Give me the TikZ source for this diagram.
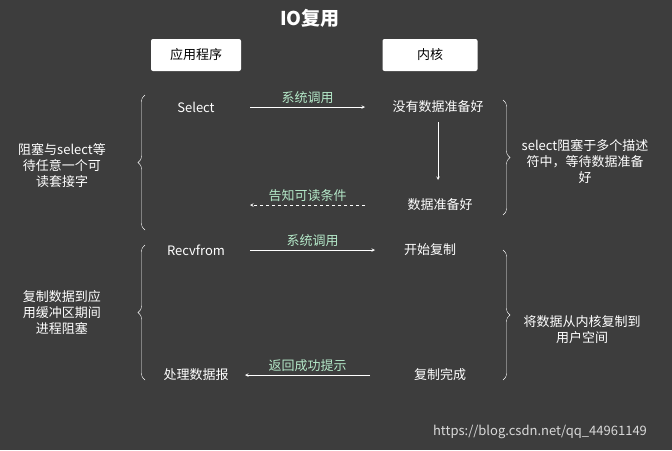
\documentclass[tikz,border=0pt]{standalone}
\usepackage{fontspec}
\setmainfont{Noto Sans CJK SC}
\usetikzlibrary{decorations.pathreplacing,calc}
\definecolor{bgdark}{HTML}{3D3D3D}
\definecolor{callgreen}{HTML}{B4E8C8}
\begin{document}
\begin{tikzpicture}[
        x=1pt, y=-1pt,
        every node/.style={text=white, font=\fontsize{13}{16}\selectfont},
        hdr/.style={rectangle, rounded corners=2pt, fill=white, text=black, minimum height=32pt},
        evt/.style={inner sep=2pt},
        call/.style={->, >=stealth, white, semithick},
        lbl/.style={text=callgreen, above, inner sep=3pt},
        brace/.style={decorate, decoration={brace, amplitude=7pt}, white, thin},
        note/.style={align=center, inner sep=0pt},
    ]
        \fill[bgdark] (0,0) rectangle (672,450);
        \useasboundingbox (0,0) rectangle (672,450);

        \node[font=\fontsize{19}{22}\selectfont\bfseries] (title) at (310,18) {IO复用};
        \node[hdr, minimum width=90pt] (app) at (196,55) {应用程序};
        \node[hdr, minimum width=95pt] (kern) at (430,55) {内核};

        \node[evt] (sel) at (196,107) {Select};
        \node[evt] (nodata) at (438,107) {没有数据准备好};
        \node[evt] (ready) at (440,205) {数据准备好};
        \node[evt] (recv) at (196,250) {Recvfrom};
        \node[evt] (start) at (430,250) {开始复制};
        \node[evt] (done) at (440,375) {复制完成};
        \node[evt] (proc) at (196,375) {处理数据报};

        \coordinate (a1) at (250,107); \coordinate (a1e) at (365,107);
        \draw[call] (a1) -- (a1e) node[midway, lbl] {系统调用};
        \coordinate (a2) at (438,122); \coordinate (a2e) at (438,180);
        \draw[call] (a2) -- (a2e);
        \coordinate (a3) at (365,205); \coordinate (a4) at (250,205);
        \draw[call, dashed] (a3) -- (a4) node[midway, lbl] {告知可读条件};
        \coordinate (b1) at (250,250); \coordinate (b2) at (375,250);
        \draw[call] (b1) -- (b2) node[midway, lbl] {系统调用};
        \coordinate (b3) at (370,375); \coordinate (b4) at (245,375);
        \draw[call] (b3) -- (b4) node[midway, lbl] {返回成功提示};

        \coordinate (lb1) at (145,230); \coordinate (lt1) at (145,95);
        \coordinate (lb2) at (145,380); \coordinate (lt2) at (145,245);
        \coordinate (rt1) at (503,100); \coordinate (rb1) at (503,215);
        \coordinate (rt2) at (503,250); \coordinate (rb2) at (503,380);
        \draw[brace] (lb1) -- (lt1);
        \draw[brace] (lb2) -- (lt2);
        \draw[brace] (rt1) -- (rb1);
        \draw[brace] (rt2) -- (rb2);

        \node[note] (n1) at (62,166) {阻塞与select等\\待任意一个可\\读套接字};
        \node[note] (n2) at (62,312) {复制数据到应\\用缓冲区期间\\进程阻塞};
        \node[note] (n3) at (585,162) {select阻塞于多个描述\\符中，等待数据准备\\好};
        \node[note] (n4) at (582,330) {将数据从内核复制到\\用户空间};

        \node[text=white!85!black] (wm) at (540,432) {https://blog.csdn.net/qq\_44961149};
\end{tikzpicture}
\end{document}
